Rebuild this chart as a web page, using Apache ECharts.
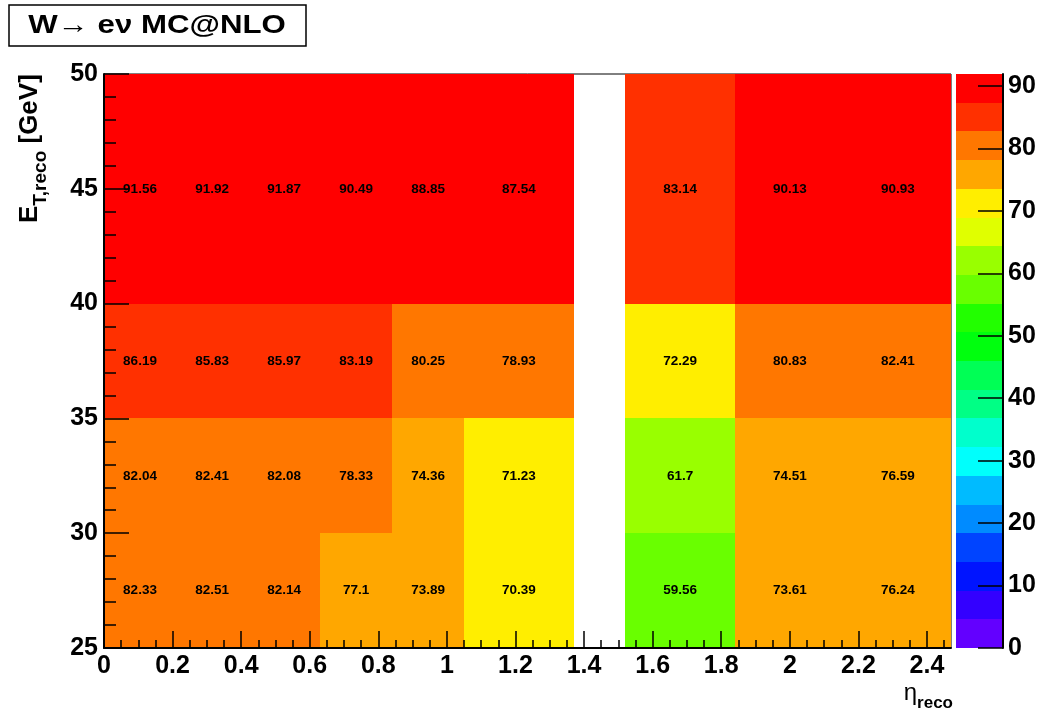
<!DOCTYPE html>
<html><head><meta charset="utf-8">
<script src="https://cdn.jsdelivr.net/npm/echarts@6/dist/echarts.min.js"></script>
<style>html,body{margin:0;padding:0;background:#fff}#c{width:1046px;height:708px}</style>
</head><body><div id="c"></div>
<script>
// ---- data ----
const etaEdges = [0, 0.21, 0.42, 0.63, 0.84, 1.05, 1.37, 1.52, 1.84, 2.16, 2.47];
const etEdges = [25, 30, 35, 40, 50];
const effEt25to30 = [82.33, 82.51, 82.14, 77.1, 73.89, 70.39, null, 59.56, 73.61, 76.24];
const effEt30to35 = [82.04, 82.41, 82.08, 78.33, 74.36, 71.23, null, 61.7, 74.51, 76.59];
const effEt35to40 = [86.19, 85.83, 85.97, 83.19, 80.25, 78.93, null, 72.29, 80.83, 82.41];
const effEt40to50 = [91.56, 91.92, 91.87, 90.49, 88.85, 87.54, null, 83.14, 90.13, 90.93];
const xTickLabels = [0, 0.2, 0.4, 0.6, 0.8, 1, 1.2, 1.4, 1.6, 1.8, 2, 2.2, 2.4];
const zTickLabels = [0, 10, 20, 30, 40, 50, 60, 70, 80, 90];
const titleText = 'W\u2192 e\u03bd MC@NLO';

// ---- build ----
const rows = [effEt25to30, effEt30to35, effEt35to40, effEt40to50];
const cells = [];
let zMax = -Infinity;
rows.forEach((row, r) => row.forEach((v, c) => {
  if (v === null) return;
  zMax = Math.max(zMax, v);
  cells.push([etaEdges[c], etaEdges[c + 1], etEdges[r], etEdges[r + 1], v]);
}));
const nContours = 20;
function hsl2hex(h) {
  const s = 1, l = 0.5;
  const k = n => (n + h / 30) % 12;
  const a = s * Math.min(l, 1 - l);
  const f = n => l - a * Math.max(-1, Math.min(k(n) - 3, Math.min(9 - k(n), 1)));
  const hx = x => Math.round(x * 255).toString(16).padStart(2, '0');
  return '#' + hx(f(0)) + hx(f(8)) + hx(f(4));
}
// ROOT "pretty palette" (50 colours violet -> red), 20 contours
const palette = [];
for (let k = 0; k < nContours; k++) {
  const idx = Math.floor((k + 0.99) * 50 / nContours);
  const hue = Math.max(0, 280 - (idx + 1) * 5.6);
  palette.push(hsl2hex(hue));
}
function colorFor(v) {
  let k = Math.floor(v / zMax * nContours);
  if (k >= nContours) k = nContours - 1;
  if (k < 0) k = 0;
  return palette[k];
}
const boxes = [];
for (let k = 0; k < nContours; k++) boxes.push([zMax * k / nContours, zMax * (k + 1) / nContours, k]);
const xMinor = [];
for (let i = 0; i * 0.05 <= 2.47 + 1e-9; i++) { if (i % 4) xMinor.push(+(i * 0.05).toFixed(2)); }

const FONT = '"Liberation Sans", Arial, Helvetica, sans-serif';
const lab = { fontFamily: FONT, fontSize: 25, fontWeight: 'bold', color: '#000' };

function pixRect(p0, p1) {
  const x0 = Math.round(p0[0]), y0 = Math.round(p0[1]);
  const x1 = Math.round(p1[0]), y1 = Math.round(p1[1]);
  return { x: x0, y: y0, width: x1 - x0, height: y1 - y0 };
}

const chart = echarts.init(document.getElementById('c'), null, { renderer: 'canvas' });
chart.setOption({
  animation: false,
  backgroundColor: '#fff',
  grid: [
    { left: 104, top: 74, width: 847, height: 574, show: true, borderColor: '#000', borderWidth: 1, backgroundColor: 'transparent' },
    { left: 956, top: 74, width: 47, height: 574, show: false }
  ],
  xAxis: [
    { gridIndex: 0, type: 'value', min: 0, max: 2.47, position: 'bottom', z: 10,
      axisLine: { onZero: false, lineStyle: { color: '#000', width: 2 } },
      axisTick: { inside: true, length: 17, customValues: xTickLabels, lineStyle: { color: '#000', width: 1.5 } },
      axisLabel: Object.assign({ customValues: xTickLabels, margin: 6 }, lab),
      splitLine: { show: false } },
    { gridIndex: 0, type: 'value', min: 0, max: 2.47, position: 'bottom', offset: 0, z: 10,
      axisLine: { show: false, onZero: false },
      axisTick: { inside: true, length: 8, customValues: xMinor, lineStyle: { color: '#000', width: 1.5 } },
      axisLabel: { show: false }, splitLine: { show: false } },
    { gridIndex: 1, type: 'value', min: 0, max: 1, show: false, axisLine: { onZero: false } }
  ],
  yAxis: [
    { gridIndex: 0, type: 'value', min: 25, max: 50, interval: 5, position: 'left', z: 10,
      axisLine: { onZero: false, lineStyle: { color: '#000', width: 2 } },
      axisTick: { inside: true, length: 25, lineStyle: { color: '#000', width: 1.5 } },
      minorTick: { show: true, splitNumber: 5, length: 12, lineStyle: { color: '#000', width: 1.5 } },
      axisLabel: Object.assign({ margin: 6, padding: [2, 0, 0, 0] }, lab),
      splitLine: { show: false } },
    { gridIndex: 1, type: 'value', min: 0, max: zMax, position: 'right', z: 10,
      axisLine: { show: true, onZero: false, lineStyle: { color: '#000', width: 2 } },
      axisTick: { show: true, inside: true, length: 25, customValues: zTickLabels, lineStyle: { color: '#000', width: 1.5 } },
      axisLabel: Object.assign({ customValues: zTickLabels, margin: 5, padding: [3, 0, 0, 0] }, lab),
      splitLine: { show: false } }
  ],
  series: [
    { type: 'custom', xAxisIndex: 0, yAxisIndex: 0, z: 2, data: cells, silent: true,
      renderItem: function (params, api) {
        const p0 = api.coord([api.value(0), api.value(3)]);
        const p1 = api.coord([api.value(1), api.value(2)]);
        const v = api.value(4);
        return { type: 'group', children: [
          { type: 'rect', shape: pixRect(p0, p1), style: { fill: colorFor(v), stroke: null } },
          { type: 'text', x: (p0[0] + p1[0]) / 2, y: (p0[1] + p1[1]) / 2,
            style: { text: String(v), align: 'center', verticalAlign: 'middle', fill: '#000',
              font: 'bold 13.5px ' + FONT } }
        ] };
      } },
    { type: 'custom', xAxisIndex: 2, yAxisIndex: 1, z: 2, data: boxes, silent: true,
      renderItem: function (params, api) {
        const p0 = api.coord([0, api.value(1)]);
        const p1 = api.coord([1, api.value(0)]);
        return { type: 'rect', shape: pixRect(p0, p1), style: { fill: palette[api.value(2)] } };
      } }
  ],
  graphic: [
    { type: 'rect', shape: { x: 9, y: 5, width: 297, height: 41 }, style: { fill: '#fff', stroke: '#000', lineWidth: 1.5 } },
    { type: 'text', x: 157, y: 26, scaleX: 1.2, style: { text: titleText, align: 'center', verticalAlign: 'middle',
        font: 'bold 26px ' + FONT, fill: '#000' } },
    { type: 'text', x: 50, y: 223, rotation: Math.PI / 2,
      style: { text: '{m|E}{s|T,reco}{m| [GeV]}', align: 'left', verticalAlign: 'bottom',
        rich: { m: { fontFamily: FONT, fontSize: 26, fontWeight: 'bold', lineHeight: 33, verticalAlign: 'top', fill: '#000' },
                s: { fontFamily: FONT, fontSize: 19, fontWeight: 'bold', lineHeight: 19, verticalAlign: 'bottom', fill: '#000' } } } },
    { type: 'text', x: 953, y: 712,
      style: { text: '{m|\u03b7}{s|reco}', align: 'right', verticalAlign: 'bottom',
        rich: { m: { fontFamily: FONT, fontSize: 24, fontWeight: 'normal', lineHeight: 31, verticalAlign: 'top', fill: '#000' },
                s: { fontFamily: FONT, fontSize: 17, fontWeight: 'bold', lineHeight: 17, verticalAlign: 'bottom', fill: '#000' } } } }
  ]
});
</script>
</body></html>
